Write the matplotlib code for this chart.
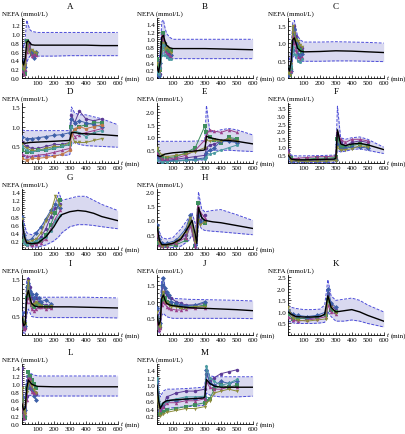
import matplotlib
matplotlib.use("Agg")
import matplotlib.pyplot as plt
from matplotlib.ticker import MultipleLocator

plt.rcParams['font.family'] = ['Liberation Serif', 'DejaVu Serif']
plt.rcParams['font.size'] = 5

# ---- data ----
A_t = [0, 10, 20, 30, 40, 50, 60, 80, 100, 200, 300, 400, 500, 600]
A_mean = [0.42, 0.3, 0.45, 0.82, 0.85, 0.8, 0.76, 0.75, 0.75, 0.75, 0.75, 0.75, 0.74, 0.74]
A_hi = [0.85, 0.7, 0.9, 1.32, 1.2, 1.1, 1.07, 1.05, 1.04, 1.04, 1.04, 1.04, 1.04, 1.04]
A_lo = [0.1, 0.05, 0.1, 0.35, 0.45, 0.5, 0.5, 0.5, 0.5, 0.5, 0.51, 0.51, 0.51, 0.51]
A_st = [0, 10, 20, 30, 45, 60, 75, 90]
A_subj = [[0.4, 0.3, 0.15, 0.75, 0.8, 0.6, 0.55, 0.58],
          [0.2, 0.15, 0.1, 0.85, 0.7, 0.55, 0.5, 0.55],
          [0.35, 0.4, 0.25, 0.7, 0.65, 0.62, 0.45, 0.6],
          [0.15, 0.1, 0.2, 0.6, 0.75, 0.5, 0.55, 0.52],
          [0.3, 0.2, 0.3, 0.8, 0.6, 0.65, 0.6, 0.57]]

B_t = [0, 10, 20, 30, 40, 50, 60, 80, 100, 200, 300, 400, 500, 600]
B_mean = [0.3, 0.15, 0.4, 1.05, 1.1, 0.95, 0.85, 0.78, 0.76, 0.76, 0.76, 0.75, 0.74, 0.73]
B_hi = [0.6, 0.4, 0.7, 1.45, 1.5, 1.3, 1.15, 1.05, 1.0, 1.0, 1.0, 1.0, 1.0, 1.0]
B_lo = [0.05, 0.0, 0.05, 0.6, 0.65, 0.55, 0.5, 0.5, 0.5, 0.5, 0.5, 0.5, 0.5, 0.5]
B_st = [0, 10, 20, 30, 40, 50, 60, 75, 90]
B_subj = [[0.3, 0.2, 0.1, 1.0, 1.1, 0.9, 0.7, 0.65, 0.6],
          [0.5, 0.3, 0.2, 0.9, 1.15, 0.85, 0.75, 0.7, 0.7],
          [0.1, 0.05, 0.4, 0.8, 0.95, 0.8, 0.6, 0.55, 0.6],
          [0.2, 0.25, 0.3, 1.1, 1.0, 0.7, 0.65, 0.6, 0.55],
          [0.4, 0.1, 0.2, 0.7, 0.9, 0.75, 0.8, 0.75, 0.65],
          [0.15, 0.1, 0.25, 0.6, 0.85, 0.6, 0.55, 0.5, 0.5]]

C_t = [0, 10, 20, 30, 40, 50, 60, 80, 100, 200, 300, 400, 500, 600]
C_mean = [0.3, 0.2, 0.5, 1.1, 1.15, 1.0, 0.85, 0.77, 0.75, 0.76, 0.78, 0.77, 0.75, 0.73]
C_hi = [0.6, 0.5, 0.9, 1.6, 1.65, 1.4, 1.2, 1.08, 1.03, 1.03, 1.04, 1.03, 1.02, 1.0]
C_lo = [0.05, 0.02, 0.1, 0.6, 0.65, 0.55, 0.5, 0.48, 0.48, 0.48, 0.49, 0.49, 0.48, 0.47]
C_st = [0, 10, 20, 30, 40, 50, 60, 75, 90]
C_subj = [[0.3, 0.2, 0.25, 1.3, 1.5, 1.2, 1.0, 0.9, 0.85],
          [0.2, 0.1, 0.3, 1.0, 1.2, 1.1, 0.9, 0.8, 0.75],
          [0.1, 0.15, 0.2, 0.8, 1.4, 1.0, 0.7, 0.6, 0.7],
          [0.25, 0.3, 0.2, 1.2, 1.0, 0.8, 0.6, 0.55, 0.6],
          [0.15, 0.1, 0.4, 1.5, 1.3, 1.1, 1.05, 0.95, 0.9],
          [0.3, 0.25, 0.35, 0.9, 0.7, 0.65, 0.5, 0.45, 0.55]]

D_t = [0, 20, 50, 100, 200, 290, 300, 310, 330, 360, 400, 500, 600]
D_mean = [0.6, 0.58, 0.6, 0.61, 0.63, 0.65, 0.66, 0.85, 0.85, 0.83, 0.82, 0.8, 0.77]
D_hi = [0.92, 0.9, 0.9, 0.9, 0.9, 0.9, 0.95, 1.5, 1.35, 1.3, 1.3, 1.2, 1.05]
D_lo = [0.4, 0.2, 0.22, 0.25, 0.27, 0.28, 0.3, 0.55, 0.6, 0.55, 0.52, 0.5, 0.48]
D_st = [0, 30, 60, 100, 150, 200, 250, 300, 310, 330, 360, 400, 450, 500]
D_subj = [[0.6, 0.5, 0.45, 0.45, 0.5, 0.55, 0.55, 0.6, 1.3, 1.1, 1.4, 1.2, 1.15, 1.2],
          [0.4, 0.35, 0.35, 0.4, 0.4, 0.45, 0.5, 0.55, 1.0, 0.9, 1.0, 1.05, 1.1, 1.1],
          [0.75, 0.7, 0.7, 0.72, 0.75, 0.78, 0.8, 0.85, 1.2, 1.1, 1.15, 1.1, 1.05, 1.0],
          [0.3, 0.25, 0.25, 0.28, 0.3, 0.35, 0.4, 0.45, 0.9, 0.75, 0.8, 0.85, 0.9, 0.95],
          [0.55, 0.45, 0.4, 0.4, 0.45, 0.5, 0.5, 0.6, 0.85, 0.6, 0.6, 0.6, 0.65, 0.7],
          [0.5, 0.4, 0.35, 0.4, 0.42, 0.45, 0.5, 0.55, 1.0, 0.9, 0.85, 0.75, 0.85, 0.9],
          [0.2, 0.15, 0.2, 0.2, 0.22, 0.25, 0.3, 0.4, 0.8, 0.95, 1.0, 0.95, 1.0, 1.05]]

E_t = [0, 20, 50, 100, 200, 290, 300, 310, 330, 360, 400, 450, 500, 600]
E_mean = [0.3, 0.25, 0.35, 0.4, 0.45, 0.5, 0.52, 1.05, 1.0, 0.95, 0.9, 0.88, 0.85, 0.75]
E_hi = [0.85, 0.85, 0.85, 0.85, 0.85, 0.87, 0.9, 2.25, 1.3, 1.2, 1.3, 1.35, 1.3, 1.1]
E_lo = [0.05, 0.03, 0.05, 0.08, 0.1, 0.12, 0.12, 0.45, 0.5, 0.5, 0.5, 0.5, 0.48, 0.45]
E_st = [0, 30, 60, 120, 180, 240, 300, 310, 330, 360, 400, 450, 500]
E_subj = [[0.3, 0.1, 0.1, 0.15, 0.2, 0.25, 0.3, 0.6, 0.7, 0.75, 0.85, 0.95, 0.9],
          [0.5, 0.2, 0.2, 0.25, 0.4, 0.6, 1.45, 1.2, 1.0, 0.9, 0.8, 1.0, 0.95],
          [0.2, 0.05, 0.08, 0.1, 0.12, 0.15, 0.2, 0.4, 0.5, 0.6, 0.85, 0.85, 0.8],
          [0.4, 0.15, 0.15, 0.2, 0.3, 0.5, 0.9, 1.1, 1.3, 1.25, 1.2, 1.3, 1.2],
          [0.6, 0.3, 0.25, 0.3, 0.35, 0.45, 0.6, 0.9, 0.85, 0.9, 0.85, 0.95, 0.85],
          [0.1, 0.05, 0.05, 0.08, 0.1, 0.12, 0.15, 0.25, 0.35, 0.4, 0.5, 0.6, 0.7]]

F_t = [0, 20, 50, 100, 200, 290, 300, 310, 330, 360, 400, 450, 500, 600]
F_mean = [0.5, 0.25, 0.2, 0.2, 0.22, 0.25, 0.3, 2.1, 1.2, 1.1, 1.2, 1.25, 1.15, 0.85]
F_hi = [0.8, 0.5, 0.45, 0.45, 0.47, 0.5, 0.55, 3.6, 1.6, 1.5, 1.6, 1.65, 1.5, 1.0]
F_lo = [0.1, 0.05, 0.03, 0.03, 0.03, 0.04, 0.05, 0.8, 0.7, 0.75, 0.85, 0.9, 0.8, 0.6]
F_st = [0, 20, 60, 120, 180, 240, 300, 310, 330, 360, 400, 450, 500]
F_subj = [[0.8, 0.2, 0.15, 0.15, 0.2, 0.2, 0.25, 1.8, 1.3, 1.1, 1.3, 1.4, 1.3],
          [0.6, 0.3, 0.2, 0.25, 0.3, 0.3, 0.35, 1.5, 1.0, 1.0, 1.1, 1.2, 1.1],
          [0.4, 0.1, 0.1, 0.1, 0.12, 0.15, 0.2, 1.2, 0.9, 0.95, 1.0, 1.0, 0.95],
          [0.7, 0.25, 0.3, 0.35, 0.4, 0.4, 0.45, 2.0, 1.5, 1.3, 1.5, 1.5, 1.4],
          [0.5, 0.15, 0.12, 0.1, 0.1, 0.12, 0.15, 1.0, 0.8, 0.85, 0.9, 1.1, 1.0]]

G_t = [0, 15, 30, 60, 100, 150, 200, 230, 250, 300, 350, 400, 450, 500, 600]
G_mean = [0.7, 0.3, 0.15, 0.13, 0.15, 0.3, 0.55, 0.75, 0.85, 0.92, 0.95, 0.93, 0.88, 0.8, 0.7]
G_hi = [0.85, 0.6, 0.4, 0.35, 0.45, 0.7, 1.0, 1.4, 1.2, 1.25, 1.3, 1.3, 1.2, 1.1, 0.95]
G_lo = [0.5, 0.15, 0.08, 0.05, 0.05, 0.1, 0.2, 0.3, 0.4, 0.55, 0.6, 0.6, 0.58, 0.55, 0.5]
G_st = [0, 15, 30, 60, 90, 120, 150, 180, 210, 240]
G_subj = [[0.7, 0.3, 0.15, 0.15, 0.2, 0.3, 0.5, 0.8, 1.0, 1.1],
          [0.6, 0.2, 0.12, 0.12, 0.15, 0.2, 0.35, 0.6, 0.9, 1.2],
          [0.8, 0.35, 0.2, 0.25, 0.4, 0.55, 0.75, 0.95, 1.1, 1.0],
          [0.5, 0.2, 0.1, 0.1, 0.12, 0.15, 0.25, 0.5, 0.75, 0.95],
          [0.75, 0.25, 0.18, 0.2, 0.25, 0.4, 0.7, 0.9, 1.3, 1.05],
          [0.65, 0.15, 0.1, 0.15, 0.2, 0.25, 0.3, 0.45, 0.7, 0.85]]

H_t = [0, 15, 30, 60, 100, 150, 200, 220, 240, 250, 260, 280, 300, 350, 400, 500, 600]
H_mean = [0.8, 0.3, 0.15, 0.15, 0.2, 0.35, 0.8, 1.0, 0.5, 0.2, 1.45, 1.1, 1.0, 0.95, 0.92, 0.82, 0.72]
H_hi = [0.9, 0.6, 0.4, 0.35, 0.4, 0.7, 1.1, 1.25, 0.9, 0.6, 2.0, 1.4, 1.3, 1.35, 1.38, 1.2, 1.0]
H_lo = [0.6, 0.1, 0.05, 0.05, 0.05, 0.1, 0.3, 0.5, 0.15, 0.02, 0.9, 0.7, 0.65, 0.62, 0.6, 0.55, 0.5]
H_st = [0, 15, 30, 60, 120, 180, 210, 240, 255, 270, 300]
H_subj = [[0.8, 0.3, 0.15, 0.15, 0.2, 0.5, 1.0, 0.2, 1.4, 1.0, 1.2],
          [0.7, 0.2, 0.1, 0.1, 0.15, 0.3, 0.9, 0.1, 1.6, 1.2, 0.9],
          [0.85, 0.35, 0.2, 0.2, 0.3, 0.7, 1.2, 0.15, 1.2, 0.95, 1.0],
          [0.6, 0.15, 0.1, 0.12, 0.2, 0.4, 0.8, 0.12, 1.5, 1.3, 1.1],
          [0.75, 0.25, 0.12, 0.15, 0.25, 0.6, 1.1, 0.25, 1.0, 0.85, 0.95]]

I_t = [0, 10, 20, 30, 40, 50, 60, 80, 100, 200, 300, 400, 500, 600]
I_mean = [0.5, 0.25, 0.3, 1.05, 1.2, 1.0, 0.85, 0.78, 0.76, 0.76, 0.76, 0.75, 0.74, 0.73]
I_hi = [0.9, 0.5, 0.7, 1.5, 1.55, 1.35, 1.15, 1.05, 1.02, 1.02, 1.02, 1.02, 1.01, 1.0]
I_lo = [0.2, 0.05, 0.05, 0.55, 0.7, 0.6, 0.5, 0.48, 0.47, 0.47, 0.47, 0.47, 0.47, 0.46]
I_st = [0, 10, 20, 30, 40, 50, 60, 75, 90, 105, 120, 150, 180]
I_subj = [[0.5, 0.3, 0.2, 1.2, 1.5, 1.3, 1.0, 0.9, 1.0, 0.9, 0.85, 0.8, 0.8],
          [0.4, 0.2, 0.3, 1.0, 1.3, 1.1, 0.8, 0.75, 0.8, 0.85, 0.8, 0.75, 0.75],
          [0.6, 0.25, 0.25, 1.3, 1.4, 1.2, 1.1, 1.0, 1.1, 1.0, 0.9, 0.95, 0.85],
          [0.3, 0.15, 0.2, 0.9, 1.0, 0.9, 0.7, 0.65, 0.7, 0.75, 0.75, 0.7, 0.72],
          [0.45, 0.35, 0.3, 1.1, 1.45, 0.95, 0.8, 0.85, 0.9, 0.8, 0.78, 0.75, 0.78]]

J_t = [0, 10, 20, 30, 40, 50, 60, 80, 100, 200, 300, 400, 500, 600]
J_mean = [0.6, 0.3, 0.4, 1.1, 1.2, 1.05, 0.95, 0.9, 0.88, 0.82, 0.8, 0.78, 0.76, 0.73]
J_hi = [0.9, 0.5, 0.8, 1.7, 1.75, 1.45, 1.25, 1.15, 1.1, 1.07, 1.06, 1.05, 1.04, 1.02]
J_lo = [0.3, 0.05, 0.1, 0.6, 0.65, 0.6, 0.55, 0.52, 0.5, 0.5, 0.5, 0.5, 0.5, 0.49]
J_st = [0, 10, 20, 30, 40, 50, 60, 75, 90, 120, 150, 180, 240, 300]
J_subj = [[0.6, 0.3, 0.25, 1.3, 1.5, 1.3, 1.2, 1.15, 1.1, 1.0, 0.95, 0.9, 0.9, 0.95],
          [0.5, 0.2, 0.3, 1.0, 1.2, 1.1, 1.0, 0.95, 0.9, 0.9, 0.85, 0.85, 0.85, 0.9],
          [0.8, 0.4, 0.35, 1.5, 1.7, 1.4, 1.3, 1.2, 1.0, 0.95, 0.9, 0.88, 0.9, 1.0],
          [0.4, 0.15, 0.2, 0.9, 1.0, 0.95, 0.85, 0.8, 0.78, 0.75, 0.75, 0.78, 0.8, 0.8],
          [0.7, 0.3, 0.25, 1.1, 1.3, 1.0, 0.95, 0.9, 0.85, 0.85, 0.8, 0.82, 0.85, 0.85]]

K_t = [0, 20, 50, 100, 150, 200, 230, 250, 270, 300, 350, 400, 450, 500, 600]
K_mean = [1.0, 0.9, 0.8, 0.78, 0.78, 0.8, 0.9, 1.7, 1.2, 1.0, 1.05, 1.1, 1.0, 0.85, 0.6]
K_hi = [1.3, 1.2, 1.15, 1.1, 1.1, 1.12, 1.3, 2.4, 1.7, 1.5, 1.55, 1.6, 1.5, 1.3, 1.0]
K_lo = [0.6, 0.55, 0.5, 0.5, 0.5, 0.52, 0.55, 1.0, 0.8, 0.6, 0.6, 0.65, 0.6, 0.5, 0.35]
K_st = [0, 30, 60, 120, 180, 240, 250, 270, 300]
K_subj = [[1.0, 0.8, 0.75, 0.7, 0.75, 0.9, 1.8, 1.3, 1.1],
          [0.9, 0.7, 0.7, 0.75, 0.8, 0.85, 1.5, 1.1, 1.0],
          [1.1, 0.9, 0.85, 0.8, 0.85, 1.0, 2.0, 1.4, 1.2],
          [0.8, 0.65, 0.6, 0.65, 0.7, 0.8, 1.3, 1.0, 0.9],
          [1.2, 0.75, 0.65, 0.6, 0.65, 0.7, 1.6, 1.2, 0.95]]

L_t = [0, 10, 20, 30, 40, 50, 60, 80, 100, 200, 300, 400, 500, 600]
L_mean = [0.5, 0.35, 0.4, 0.9, 1.1, 1.05, 1.0, 0.96, 0.94, 0.93, 0.93, 0.93, 0.93, 0.93]
L_hi = [0.8, 0.6, 0.7, 1.2, 1.3, 1.28, 1.25, 1.22, 1.2, 1.2, 1.2, 1.2, 1.2, 1.2]
L_lo = [0.2, 0.1, 0.1, 0.55, 0.7, 0.72, 0.7, 0.7, 0.7, 0.7, 0.7, 0.7, 0.7, 0.7]
L_st = [0, 10, 20, 30, 40, 50, 60, 75, 90]
L_subj = [[1.4, 0.3, 0.2, 0.7, 1.2, 1.1, 1.0, 0.8, 0.75],
          [0.6, 0.2, 0.15, 0.9, 1.3, 1.2, 1.1, 1.0, 0.9],
          [0.7, 0.4, 0.35, 1.0, 1.1, 0.9, 0.85, 0.7, 0.6],
          [0.5, 0.15, 0.3, 0.6, 1.15, 1.15, 0.8, 0.78, 0.8],
          [0.9, 0.35, 0.25, 0.8, 1.0, 1.05, 0.95, 0.85, 0.78]]

M_t = [0, 10, 20, 40, 60, 100, 200, 290, 300, 310, 330, 360, 400, 450, 500, 600]
M_mean = [1.0, 0.6, 0.4, 0.55, 0.6, 0.62, 0.65, 0.67, 0.7, 1.15, 1.05, 0.98, 0.95, 0.95, 0.95, 0.95]
M_hi = [1.2, 0.9, 0.7, 0.85, 0.9, 0.9, 0.92, 0.95, 1.0, 1.5, 1.25, 1.22, 1.22, 1.22, 1.22, 1.22]
M_lo = [0.6, 0.3, 0.2, 0.3, 0.4, 0.42, 0.45, 0.48, 0.5, 0.8, 0.75, 0.72, 0.7, 0.7, 0.7, 0.72]
M_st = [0, 20, 40, 60, 120, 180, 240, 300, 310, 330, 360, 400, 450, 500]
M_subj = [[1.0, 0.3, 0.45, 0.7, 0.8, 0.85, 0.85, 0.9, 1.3, 1.1, 1.2, 1.3, 1.35, 1.4],
          [0.8, 0.25, 0.3, 0.35, 0.4, 0.45, 0.5, 0.55, 0.6, 0.65, 0.9, 1.0, 0.95, 1.0],
          [1.1, 0.4, 0.5, 0.6, 0.6, 0.65, 0.65, 0.7, 1.4, 1.05, 1.0, 1.1, 1.05, 1.1],
          [0.9, 0.35, 0.45, 0.55, 0.55, 0.6, 0.6, 0.65, 1.1, 0.95, 0.9, 0.9, 0.95, 0.95],
          [0.7, 0.2, 0.25, 0.3, 0.35, 0.4, 0.4, 0.45, 0.55, 0.6, 0.8, 0.85, 0.9, 0.85],
          [1.2, 0.5, 0.55, 0.6, 0.65, 0.7, 0.7, 0.72, 1.5, 1.2, 1.1, 1.0, 1.05, 1.15]]

# axis ranges / ticks per panel
ylims = {'A': (0, 1.37), 'B': (0, 1.55), 'C': (0, 1.72), 'D': (0.08, 1.6),
         'E': (0, 2.35), 'F': (0, 3.8), 'G': (0, 1.48), 'H': (0, 2.1),
         'I': (0, 1.62), 'J': (0, 1.8), 'K': (0, 2.6), 'L': (0, 1.5), 'M': (0, 1.55)}
ysteps = {'A': 0.2, 'B': 0.2, 'C': 0.5, 'D': 0.5, 'E': 0.5, 'F': 0.5, 'G': 0.2,
          'H': 0.5, 'I': 0.5, 'J': 0.5, 'K': 0.5, 'L': 0.2, 'M': 0.2}
zero_label = {'A': True, 'B': True, 'C': True, 'L': True}

panels = {
    'A': (A_t, A_mean, A_hi, A_lo, A_st, A_subj),
    'B': (B_t, B_mean, B_hi, B_lo, B_st, B_subj),
    'C': (C_t, C_mean, C_hi, C_lo, C_st, C_subj),
    'D': (D_t, D_mean, D_hi, D_lo, D_st, D_subj),
    'E': (E_t, E_mean, E_hi, E_lo, E_st, E_subj),
    'F': (F_t, F_mean, F_hi, F_lo, F_st, F_subj),
    'G': (G_t, G_mean, G_hi, G_lo, G_st, G_subj),
    'H': (H_t, H_mean, H_hi, H_lo, H_st, H_subj),
    'I': (I_t, I_mean, I_hi, I_lo, I_st, I_subj),
    'J': (J_t, J_mean, J_hi, J_lo, J_st, J_subj),
    'K': (K_t, K_mean, K_hi, K_lo, K_st, K_subj),
    'L': (L_t, L_mean, L_hi, L_lo, L_st, L_subj),
    'M': (M_t, M_mean, M_hi, M_lo, M_st, M_subj),
}
grid_pos = {'A': (0, 0), 'B': (0, 1), 'C': (0, 2), 'D': (1, 0), 'E': (1, 1), 'F': (1, 2),
            'G': (2, 0), 'H': (2, 1), 'I': (3, 0), 'J': (3, 1), 'K': (3, 2),
            'L': (4, 0), 'M': (4, 1)}

colors = ['#5B3A96', '#3E8E5E', '#3D5FA8', '#9A3F8A', '#8C8C3C', '#4A9AA0', '#C0784A']
markers = ['o', 's', 'D', '^', 'v', 'p', 'o']

W, H = 406, 435
fig = plt.figure(figsize=(W / 100, H / 100), dpi=100)

col_left = [22, 157, 288]
row_bottom = [79, 164, 250, 336, 425]
ax_w, ax_h = 96, 60


def draw_panel(name):
    t, mean, hi, lo, st, subj = panels[name]
    r, c = grid_pos[name]
    left = col_left[c]
    bottom = row_bottom[r]
    top = bottom - ax_h
    ax = fig.add_axes([left / W, 1 - bottom / H, ax_w / W, ax_h / H])

    ax.fill_between(t, lo, hi, color='#D9D9F0', lw=0, zorder=1)
    ax.plot(t, hi, ls=(0, (3, 1.5)), color='#4B4BD8', lw=0.7, zorder=2)
    ax.plot(t, lo, ls=(0, (3, 1.5)), color='#4B4BD8', lw=0.7, zorder=2)
    for i, ys in enumerate(subj):
        ax.plot(st, ys, color=colors[i % len(colors)], lw=0.7, marker=markers[i % len(markers)],
                ms=2.5, mew=0, zorder=3)
    ax.plot(t, mean, color='black', lw=1.0, zorder=4)

    ax.set_xlim(0, 602)
    ax.set_ylim(*ylims[name])
    for s in ('top', 'right'):
        ax.spines[s].set_visible(False)
    for s in ('left', 'bottom'):
        ax.spines[s].set_linewidth(0.6)
    ax.set_xticks([100, 200, 300, 400, 500, 600])
    ax.xaxis.set_minor_locator(MultipleLocator(20))
    step = ysteps[name]
    lo_y, hi_y = ylims[name]
    yt = []
    v = 0.0 if zero_label.get(name) else step
    while v <= hi_y + 1e-9:
        if v >= lo_y - 1e-9:
            yt.append(round(v, 2))
        v += step
    ax.set_yticks(yt)
    ax.set_yticklabels(['%.1f' % y for y in yt])
    ax.yaxis.set_minor_locator(MultipleLocator(step / 4))
    ax.tick_params(which='both', direction='in', width=0.5, labelsize=5, pad=1.5)
    ax.tick_params(which='major', length=2.2)
    ax.tick_params(which='minor', length=1.2)

    cx = left + ax_w / 2
    fig.text(cx / W, 1 - (top - 12) / H, name, ha='center', va='center', fontsize=6.5)
    fig.text((left - 20) / W, 1 - (top - 5) / H, 'NEFA (mmol/L)', ha='left', va='center', fontsize=5)
    fig.text((left + ax_w + 3) / W, 1 - bottom / H, 't', style='italic', ha='left', va='center', fontsize=5)
    fig.text((left + ax_w + 7) / W, 1 - bottom / H, '(min)', ha='left', va='center', fontsize=5)


for name in panels:
    draw_panel(name)

fig.savefig('out.png', dpi=100)
